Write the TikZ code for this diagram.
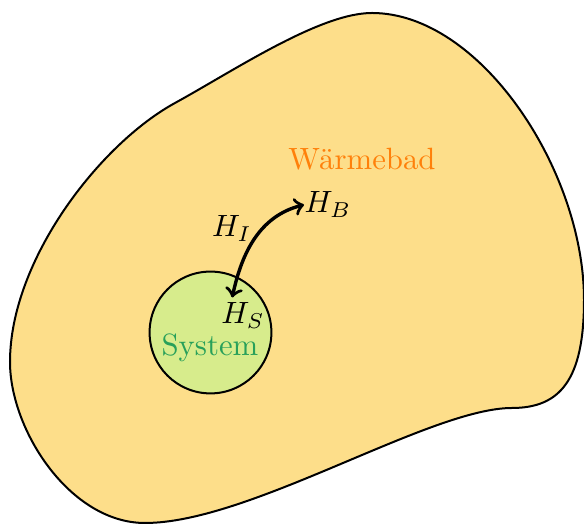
\documentclass[tikz,border=0pt]{standalone}
\usetikzlibrary{arrows}
\definecolor{bathfill}{RGB}{253,222,138}
\definecolor{sysfill}{RGB}{215,236,140}
\definecolor{bathtext}{RGB}{255,128,10}
\definecolor{systext}{RGB}{40,160,90}
\tikzset{
  outline/.style={draw=black, line width=0.65pt},
  ham/.style={inner sep=0pt, anchor=base},
  link/.style={<->, line width=1.1pt},
}
\begin{document}
\begin{tikzpicture}[x=0.325pt, y=0.325pt]
\useasboundingbox (0,0) rectangle (584,524);
\draw[outline, fill=bathfill]
  (372,511) .. controls (480,511) and (584,354) .. (584,224)
  .. controls (584,144) and (560,116) .. (512,116)
  .. controls (430,116) and (250,1) .. (145,1)
  .. controls (70,1) and (10,94) .. (10,162)
  .. controls (10,264) and (100,380) .. (175,421)
  .. controls (235,454) and (320,511) .. (372,511) -- cycle;
\node[circle, outline, fill=sysfill, minimum size=39.6pt, inner sep=0pt] (sys) at (210.5,191.5) {};
\node[anchor=base, text=bathtext] (bath) at (362,354) {Wärmebad};
\node[anchor=base, text=systext] (systxt) at (210,168) {System};
\node[ham] (HS) at (243,200) {$H_S$};
\node[ham] (HB) at (328,311) {$H_B$};
\node[ham] (HI) at (232,287) {$H_I$};
\draw[link] (HB.west) to[out=194,in=78] ([xshift=-3.5pt,yshift=1.6pt]HS.north);
\end{tikzpicture}
\end{document}
